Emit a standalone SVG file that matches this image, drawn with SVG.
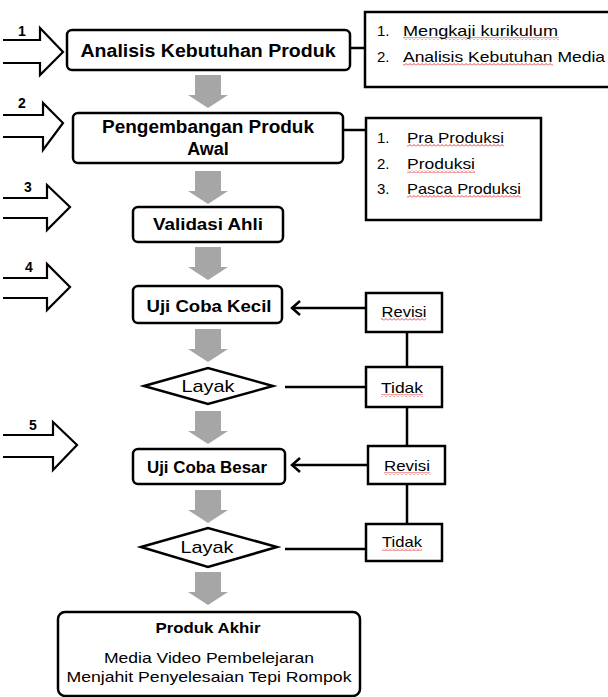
<svg xmlns="http://www.w3.org/2000/svg" width="608" height="697" viewBox="0 0 608 697">
<style>
.box{fill:#fff;stroke:#000;stroke-width:2.5}
.lst{fill:#fff;stroke:#000;stroke-width:2.5}
.ln{fill:none;stroke:#000;stroke-width:2.5}
.big{fill:none;stroke:#000;stroke-width:2.2;stroke-linejoin:miter}
.ga{fill:#a6a6a6}
.b{font-family:"Liberation Sans",Arial,sans-serif;font-weight:bold;fill:#000}
.r{font-family:"Liberation Sans",Arial,sans-serif;fill:#000}
.wave{fill:url(#wv)}
</style>
<defs>
<pattern id="wv" width="4" height="3" patternUnits="userSpaceOnUse">
<path d="M0,2.5 L2,0.5 L4,2.5" fill="none" stroke="#e03030" stroke-width="0.9"/>
</pattern>
<path id="garrow" d="M-13,0 H13 V20 H20 L0,33 L-20,20 H-13 Z"/>
<marker id="open" markerWidth="12" markerHeight="16" refX="10" refY="8" orient="auto" markerUnits="userSpaceOnUse">
<path d="M2,1 L10,8 L2,15" fill="none" stroke="#000" stroke-width="2.5"/>
</marker>
</defs>

<!-- left hollow step arrows -->
<g id="step1">
<path class="big" d="M3,40 H40 V28 L63,52 L40,75 V63 H3"/>
<text class="b" x="18" y="36" font-size="14">1</text>
</g>
<g id="step2">
<path class="big" d="M3,115 H43 V103 L63,123 L43,150 V137 H3"/>
<text class="b" x="18" y="108" font-size="14">2</text>
</g>
<g id="step3">
<path class="big" d="M3,198 H47 V185 L70,207 L47,230 V218 H3"/>
<text class="b" x="24" y="192" font-size="14">3</text>
</g>
<g id="step4">
<path class="big" d="M3,278 H47 V264 L70,287 L47,310 V298 H3"/>
<text class="b" x="25" y="272" font-size="14">4</text>
</g>
<g id="step5">
<path class="big" d="M3,435 H53 V422 L77,445 L53,470 V457 H3"/>
<text class="b" x="29" y="430" font-size="14">5</text>
</g>

<!-- gray flow arrows -->
<g id="flow-arrows" class="ga">
<use href="#garrow" x="208" y="75"/>
<use href="#garrow" x="208" y="171"/>
<use href="#garrow" x="208" y="247"/>
<use href="#garrow" x="208" y="329"/>
<use href="#garrow" x="208" y="411"/>
<use href="#garrow" x="208" y="490"/>
<use href="#garrow" x="208" y="572"/>
</g>

<!-- connectors -->
<g id="connectors">
<line class="ln" x1="350" y1="48" x2="366" y2="48"/>
<line class="ln" x1="343" y1="130" x2="366" y2="130"/>
<line class="ln" x1="366" y1="308" x2="292" y2="308" marker-end="url(#open)"/>
<line class="ln" x1="368" y1="465" x2="292" y2="465" marker-end="url(#open)"/>
<line class="ln" x1="407" y1="332" x2="407" y2="367"/>
<line class="ln" x1="407" y1="407" x2="407" y2="446"/>
<line class="ln" x1="407" y1="484" x2="407" y2="524"/>
<line class="ln" x1="285" y1="387" x2="366" y2="387"/>
<line class="ln" x1="285" y1="549" x2="366" y2="549"/>
</g>

<g id="analisis">
<rect class="box" x="67" y="30" width="283" height="40" rx="5"/>
<text class="b" x="208" y="57" font-size="18" text-anchor="middle" textLength="255" lengthAdjust="spacingAndGlyphs">Analisis Kebutuhan Produk</text>
</g>
<g id="list1">
<rect class="lst" x="365" y="12" width="250" height="75"/>
<text class="r" x="377" y="36" font-size="15">1.</text>
<text class="r" x="403" y="36" font-size="15" textLength="155" lengthAdjust="spacingAndGlyphs">Mengkaji kurikulum</text>
<text class="r" x="377" y="62" font-size="15">2.</text>
<text class="r" x="403" y="62" font-size="15" textLength="202" lengthAdjust="spacingAndGlyphs">Analisis Kebutuhan Media</text>
<rect class="wave" x="403" y="37" width="156" height="3"/>
<rect class="wave" x="403" y="63" width="150" height="3"/>
</g>

<g id="pengembangan">
<rect class="box" x="73" y="113" width="270" height="50" rx="5"/>
<text class="b" x="208" y="133" font-size="18" text-anchor="middle" textLength="212" lengthAdjust="spacingAndGlyphs">Pengembangan Produk</text>
<text class="b" x="208" y="155" font-size="18" text-anchor="middle">Awal</text>
</g>
<g id="list2">
<rect class="lst" x="366" y="118" width="175" height="102"/>
<text class="r" x="377" y="143" font-size="15">1.</text>
<text class="r" x="407" y="143" font-size="15" textLength="97" lengthAdjust="spacingAndGlyphs">Pra Produksi</text>
<text class="r" x="377" y="169" font-size="15">2.</text>
<text class="r" x="407" y="169" font-size="15" textLength="68" lengthAdjust="spacingAndGlyphs">Produksi</text>
<text class="r" x="377" y="194" font-size="15">3.</text>
<text class="r" x="407" y="194" font-size="15" textLength="114" lengthAdjust="spacingAndGlyphs">Pasca Produksi</text>
<rect class="wave" x="407" y="144" width="97" height="3"/>
<rect class="wave" x="407" y="170" width="68" height="3"/>
<rect class="wave" x="407" y="195" width="114" height="3"/>
</g>

<g id="validasi">
<rect class="box" x="133" y="207" width="150" height="35" rx="5"/>
<text class="b" x="208" y="230" font-size="17" text-anchor="middle" textLength="110" lengthAdjust="spacingAndGlyphs">Validasi Ahli</text>
</g>

<g id="uji-kecil">
<rect class="box" x="133" y="286" width="149" height="37" rx="5"/>
<text class="b" x="209" y="312" font-size="17" text-anchor="middle" textLength="125" lengthAdjust="spacingAndGlyphs">Uji Coba Kecil</text>
</g>
<g id="revisi1">
<rect class="lst" x="366" y="293" width="76" height="39"/>
<text class="r" x="404" y="317" font-size="15" text-anchor="middle" textLength="45" lengthAdjust="spacingAndGlyphs">Revisi</text>
<rect class="wave" x="381" y="318" width="45" height="3"/>
</g>

<g id="layak1">
<polygon class="box" points="144,386 208,368 273,386 208,404"/>
<text class="r" x="208" y="392" font-size="17" text-anchor="middle" textLength="53" lengthAdjust="spacingAndGlyphs">Layak</text>
</g>
<g id="tidak1">
<rect class="lst" x="366" y="367" width="76" height="40"/>
<text class="r" x="402" y="393" font-size="15" text-anchor="middle" textLength="42" lengthAdjust="spacingAndGlyphs">Tidak</text>
<rect class="wave" x="381" y="394" width="42" height="3"/>
</g>

<g id="uji-besar">
<rect class="box" x="133" y="449" width="152" height="35" rx="5"/>
<text class="b" x="207" y="473" font-size="16" text-anchor="middle" textLength="120" lengthAdjust="spacingAndGlyphs">Uji Coba Besar</text>
</g>
<g id="revisi2">
<rect class="lst" x="368" y="446" width="77" height="38"/>
<text class="r" x="407" y="471" font-size="15" text-anchor="middle" textLength="46" lengthAdjust="spacingAndGlyphs">Revisi</text>
<rect class="wave" x="384" y="472" width="46" height="3"/>
</g>

<g id="layak2">
<polygon class="box" points="141,547 208,528 277,547 208,567"/>
<text class="r" x="207" y="553" font-size="17" text-anchor="middle" textLength="53" lengthAdjust="spacingAndGlyphs">Layak</text>
</g>
<g id="tidak2">
<rect class="lst" x="366" y="524" width="76" height="37"/>
<text class="r" x="402" y="547" font-size="15" text-anchor="middle" textLength="40" lengthAdjust="spacingAndGlyphs">Tidak</text>
<rect class="wave" x="382" y="548" width="40" height="3"/>
</g>

<g id="produk-akhir">
<rect class="box" x="58" y="612" width="302" height="84" rx="7"/>
<text class="b" x="208" y="633" font-size="15" text-anchor="middle" textLength="105" lengthAdjust="spacingAndGlyphs">Produk Akhir</text>
<text class="r" x="209" y="663" font-size="15" text-anchor="middle" textLength="210" lengthAdjust="spacingAndGlyphs">Media Video Pembelejaran</text>
<text class="r" x="209" y="682" font-size="15" text-anchor="middle" textLength="285" lengthAdjust="spacingAndGlyphs">Menjahit Penyelesaian Tepi Rompok</text>
</g>
</svg>
